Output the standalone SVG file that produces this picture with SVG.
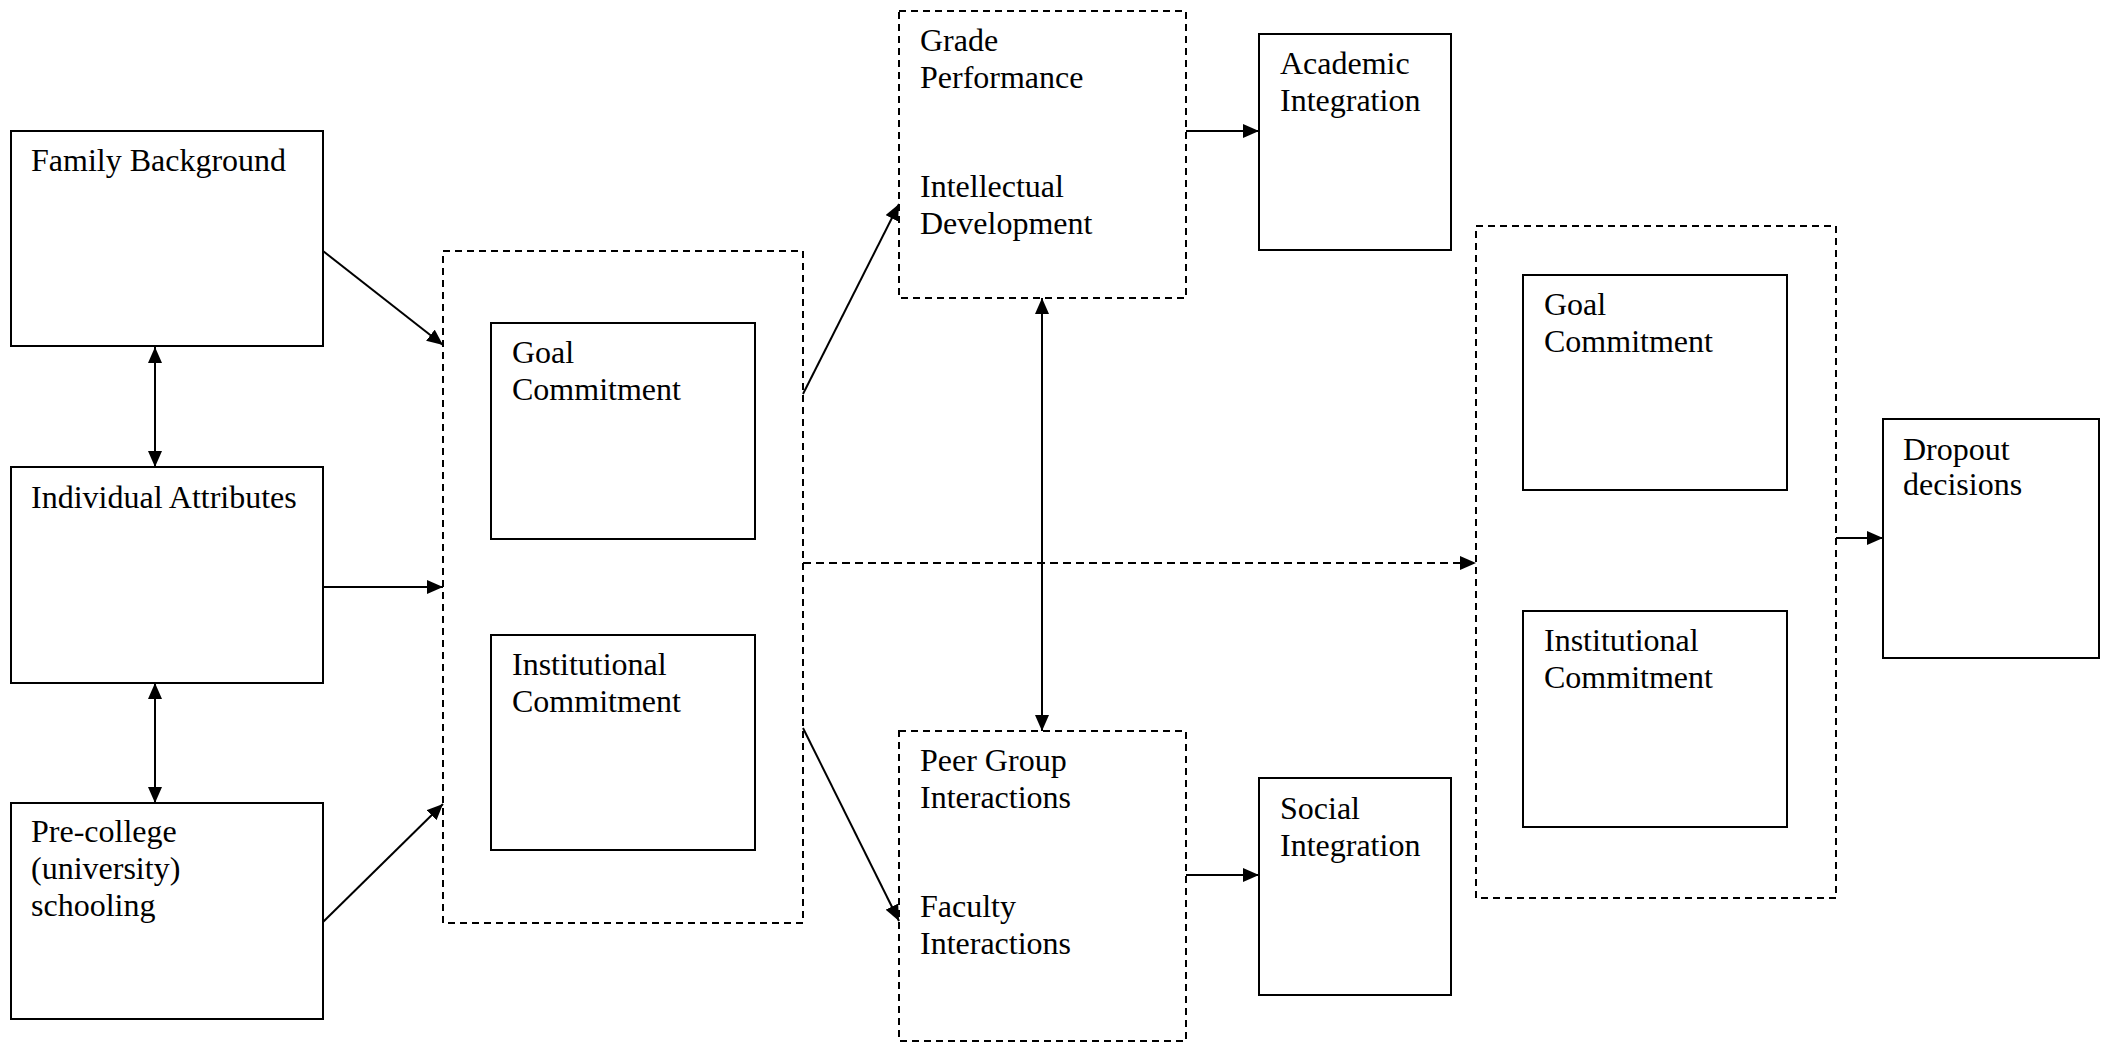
<svg xmlns="http://www.w3.org/2000/svg" width="2111" height="1043" viewBox="0 0 2111 1043">
<defs>
<style>
.box{fill:#fff;stroke:#000;stroke-width:2}
.dbox{fill:none;stroke:#000;stroke-width:2;stroke-dasharray:7 5}
.t{font-family:"Liberation Serif","Times New Roman",serif;font-size:32px;fill:#000}
.c{fill:none;stroke:#000;stroke-width:2}
</style>
<marker id="ah" markerUnits="userSpaceOnUse" markerWidth="16" markerHeight="14" refX="16" refY="7" orient="auto-start-reverse">
<path d="M0,0 L16,7 L0,14 z" fill="#000"/>
</marker>
</defs>
<rect width="2111" height="1043" fill="#fff"/>
<g id="family-background">
<rect class="box" x="11" y="131" width="312" height="215"/>
<text class="t" x="31" y="171">Family Background</text>
</g>
<g id="individual-attributes">
<rect class="box" x="11" y="467" width="312" height="216"/>
<text class="t" x="31" y="508">Individual Attributes</text>
</g>
<g id="pre-college">
<rect class="box" x="11" y="803" width="312" height="216"/>
<text class="t" x="31" y="842">Pre-college</text>
<text class="t" x="31" y="879">(university)</text>
<text class="t" x="31" y="916">schooling</text>
</g>
<g id="initial-commitments">
<rect class="dbox" x="443" y="251" width="360" height="672"/>
</g>
<g id="goal-commitment-1">
<rect class="box" x="491" y="323" width="264" height="216"/>
<text class="t" x="512" y="363">Goal</text>
<text class="t" x="512" y="400">Commitment</text>
</g>
<g id="institutional-commitment-1">
<rect class="box" x="491" y="635" width="264" height="215"/>
<text class="t" x="512" y="675">Institutional</text>
<text class="t" x="512" y="712">Commitment</text>
</g>
<g id="academic-system">
<rect class="dbox" x="899" y="11" width="287" height="287"/>
<text class="t" x="920" y="51">Grade</text>
<text class="t" x="920" y="88">Performance</text>
<text class="t" x="920" y="197">Intellectual</text>
<text class="t" x="920" y="234">Development</text>
</g>
<g id="academic-integration">
<rect class="box" x="1259" y="34" width="192" height="216"/>
<text class="t" x="1280" y="74">Academic</text>
<text class="t" x="1280" y="111">Integration</text>
</g>
<g id="social-system">
<rect class="dbox" x="899" y="731" width="287" height="310"/>
<text class="t" x="920" y="771">Peer Group</text>
<text class="t" x="920" y="808">Interactions</text>
<text class="t" x="920" y="917">Faculty</text>
<text class="t" x="920" y="954">Interactions</text>
</g>
<g id="social-integration">
<rect class="box" x="1259" y="778" width="192" height="217"/>
<text class="t" x="1280" y="819">Social</text>
<text class="t" x="1280" y="856">Integration</text>
</g>
<g id="later-commitments">
<rect class="dbox" x="1476" y="226" width="360" height="672"/>
</g>
<g id="goal-commitment-2">
<rect class="box" x="1523" y="275" width="264" height="215"/>
<text class="t" x="1544" y="315">Goal</text>
<text class="t" x="1544" y="352">Commitment</text>
</g>
<g id="institutional-commitment-2">
<rect class="box" x="1523" y="611" width="264" height="216"/>
<text class="t" x="1544" y="651">Institutional</text>
<text class="t" x="1544" y="688">Commitment</text>
</g>
<g id="dropout-decisions">
<rect class="box" x="1883" y="419" width="216" height="239"/>
<text class="t" x="1903" y="460">Dropout</text>
<text class="t" x="1903" y="495">decisions</text>
</g>
<g id="connectors">
<line class="c" x1="323" y1="251" x2="443" y2="345" marker-end="url(#ah)"/>
<line class="c" x1="323" y1="587" x2="443" y2="587" marker-end="url(#ah)"/>
<line class="c" x1="323" y1="922" x2="443" y2="804" marker-end="url(#ah)"/>
<line class="c" x1="155" y1="347" x2="155" y2="467" marker-start="url(#ah)" marker-end="url(#ah)"/>
<line class="c" x1="155" y1="683" x2="155" y2="803" marker-start="url(#ah)" marker-end="url(#ah)"/>
<line class="c" x1="803" y1="394" x2="899" y2="204" marker-end="url(#ah)"/>
<line class="c" x1="803" y1="728" x2="899" y2="921" marker-end="url(#ah)"/>
<line class="c" x1="1042" y1="298" x2="1042" y2="731" marker-start="url(#ah)" marker-end="url(#ah)"/>
<line class="c" x1="1186" y1="131" x2="1259" y2="131" marker-end="url(#ah)"/>
<line class="c" x1="1186" y1="875" x2="1259" y2="875" marker-end="url(#ah)"/>
<line class="c" x1="803" y1="563" x2="1476" y2="563" stroke-dasharray="8 5" marker-end="url(#ah)"/>
<line class="c" x1="1836" y1="538" x2="1883" y2="538" marker-end="url(#ah)"/>
</g>
</svg>
